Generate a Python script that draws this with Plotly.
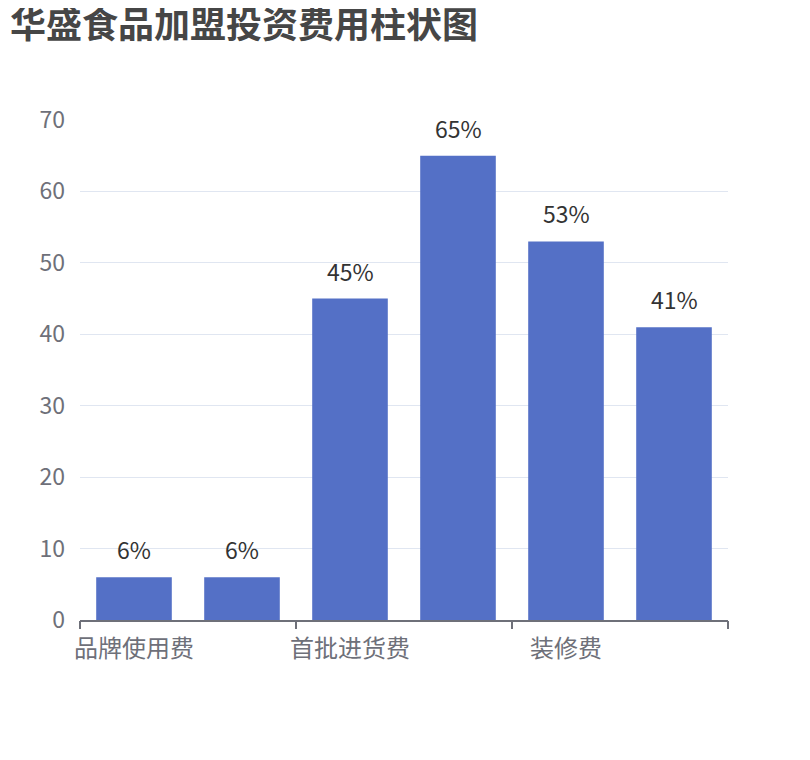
import plotly.graph_objects as go

_BAR = "#5470c6"
_GRID = "#e0e6f1"
_AXIS = "#6e7079"
_TITLE = "#464646"
_FONT = "Noto Sans CJK SC"

# only every other category name is shown on the axis in the reference
categories = ["品牌使用费", "", "首批进货费", "", "装修费", ""]
values = [6, 6, 45, 65, 53, 41]
y_ticks = [0, 10, 20, 30, 40, 50, 60, 70]

positions = list(range(len(values)))
label_pos = [i for i, c in enumerate(categories) if c]
label_text = [categories[i] for i in label_pos]
# tick marks sit on the boundaries between every second category
boundary_ticks = [i - 0.5 for i in range(0, len(values) + 1, 2)]

fig = go.Figure()
fig.add_trace(
    go.Bar(
        x=positions,
        y=values,
        width=0.7,
        marker=dict(color=_BAR, line=dict(width=0)),
        hoverinfo="skip",
    )
)
# invisible trace that drives the overlaid tick-mark axis
fig.add_trace(
    go.Scatter(x=[-0.5, 5.5], y=[0, 0], xaxis="x2", mode="markers",
               marker=dict(opacity=0), hoverinfo="skip", showlegend=False)
)

for x, v in zip(positions, values):
    fig.add_annotation(
        x=x, y=v, text=f"{v}%", showarrow=False,
        yanchor="bottom", yshift=9,
        font=dict(color="#333333", size=23, family=_FONT),
    )

fig.update_layout(
    title=dict(
        text="<b>华盛食品加盟投资费用柱状图</b>",
        x=0.0025, xanchor="left", y=0.994, yanchor="top",
        font=dict(family=_FONT, size=36, color=_TITLE),
    ),
    width=810,
    height=760,
    margin=dict(l=72, r=90, t=112, b=148),
    paper_bgcolor="white",
    plot_bgcolor="white",
    font=dict(family=_FONT, color=_AXIS),
    showlegend=False,
    xaxis=dict(
        range=[-0.5, len(values) - 0.5],
        tickvals=label_pos,
        ticktext=label_text,
        ticks="",
        ticklabelstandoff=6,
        showgrid=False,
        zeroline=False,
        showline=True,
        linecolor=_AXIS,
        linewidth=1.5,
        tickfont=dict(size=24, color=_AXIS),
        fixedrange=True,
    ),
    xaxis2=dict(
        overlaying="x",
        range=[-0.5, len(values) - 0.5],
        tickvals=boundary_ticks,
        showticklabels=False,
        ticks="outside",
        ticklen=8,
        tickcolor=_AXIS,
        tickwidth=1.5,
        showgrid=False,
        zeroline=False,
        showline=False,
        side="bottom",
        anchor="y",
    ),
    yaxis=dict(
        range=[0, 70],
        tickvals=y_ticks,
        gridcolor=_GRID,
        gridwidth=1,
        zeroline=False,
        showline=False,
        ticks="",
        ticklabelstandoff=14,
        tickfont=dict(size=23, color=_AXIS),
        fixedrange=True,
    ),
)

fig.write_html("out.html")
